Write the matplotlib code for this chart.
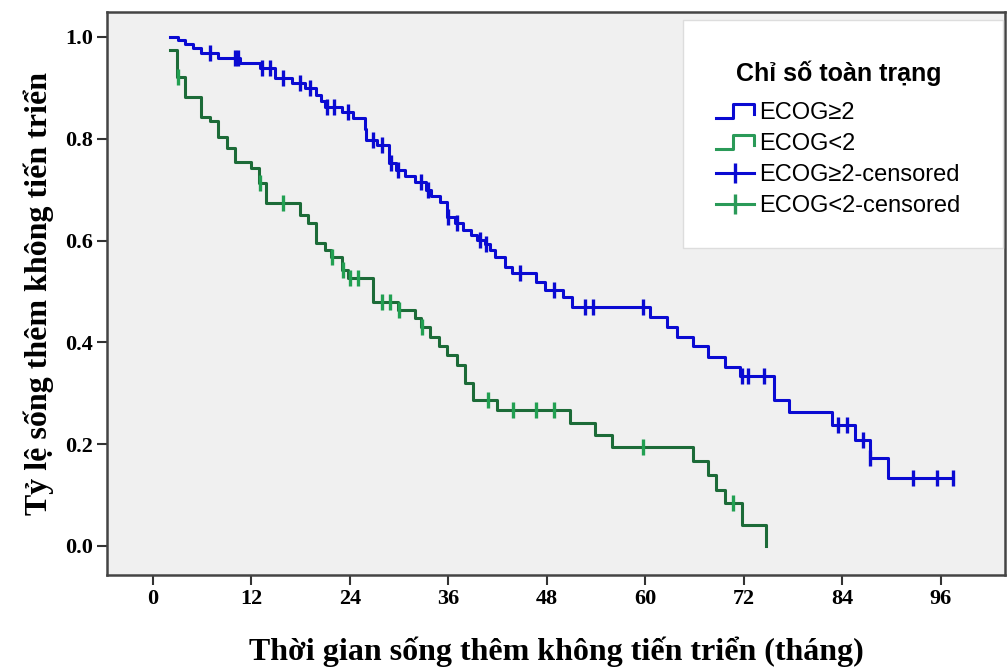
import matplotlib
matplotlib.use("Agg")
import matplotlib.pyplot as plt
import numpy as np
from matplotlib.lines import Line2D
from matplotlib.patches import Rectangle
from matplotlib.legend_handler import HandlerBase

# ECOG>=2 group: event times (months) and survival after each drop
blue_start = (2.07, 1.0)
blue_times = [3.0, 3.9, 4.9, 5.9, 7.9, 10.6, 13.0, 14.9, 16.9, 18.5, 19.9, 20.5, 20.9,
              23.0, 24.4, 25.8, 26.0, 27.3, 28.8, 29.6, 30.7, 31.9, 33.3, 33.9, 35.0,
              35.8, 36.8, 37.8, 38.8, 39.5, 40.4, 41.0, 41.7, 42.9, 43.8, 46.7, 47.7,
              50.0, 51.0, 60.6, 62.6, 63.8, 65.8, 67.6, 69.7, 71.5, 75.6, 77.5, 82.7,
              85.5, 87.3, 89.6]
blue_surv = [0.994, 0.986, 0.978, 0.968, 0.958, 0.948, 0.939, 0.919, 0.909, 0.899, 0.885,
             0.875, 0.863, 0.853, 0.840, 0.820, 0.798, 0.788, 0.752, 0.738, 0.727, 0.715,
             0.700, 0.688, 0.676, 0.647, 0.634, 0.621, 0.611, 0.601, 0.594, 0.581, 0.568,
             0.549, 0.536, 0.519, 0.503, 0.490, 0.470, 0.450, 0.431, 0.411, 0.392, 0.372,
             0.352, 0.333, 0.287, 0.264, 0.238, 0.208, 0.172, 0.133]
blue_censored = [6.9, 10.0, 10.3, 13.3, 14.2, 15.8, 17.9, 19.1, 21.2, 22.1, 23.7, 26.8,
                 27.9, 29.0, 29.9, 32.7, 33.5, 35.9, 37.0, 39.8, 40.6, 44.7, 48.8, 52.6,
                 53.6, 59.7, 71.7, 72.5, 74.5, 83.5, 84.5, 86.5, 87.4, 92.6, 95.5, 97.5]

# ECOG<2 group
green_start = (2.07, 0.974)
green_times = [2.9, 3.9, 5.9, 6.9, 7.95, 9.0, 10.0, 12.0, 12.9, 13.8, 17.9, 18.9, 19.9,
               20.9, 21.7, 23.0, 23.8, 26.8, 29.9, 31.9, 32.7, 33.7, 34.8, 35.8, 37.0,
               38.0, 39.0, 41.9, 50.8, 53.8, 55.9, 65.8, 67.6, 68.6, 69.7, 71.7, 74.7]
green_surv = [0.922, 0.883, 0.843, 0.834, 0.804, 0.781, 0.755, 0.742, 0.713, 0.673, 0.650,
              0.635, 0.595, 0.582, 0.568, 0.542, 0.526, 0.480, 0.464, 0.447, 0.431, 0.411,
              0.392, 0.375, 0.356, 0.320, 0.287, 0.267, 0.241, 0.218, 0.195, 0.166, 0.139,
              0.110, 0.084, 0.041, 0.0]
green_censored = [3.0, 13.0, 15.9, 21.8, 23.1, 24.0, 25.0, 27.9, 28.9, 30.0, 32.8, 40.8,
                  43.9, 46.7, 48.8, 59.7, 70.7]

x_ticks = [0, 12, 24, 36, 48, 60, 72, 84, 96]
y_ticks = [0.0, 0.2, 0.4, 0.6, 0.8, 1.0]
labels = ["ECOG\u22652", "ECOG<2", "ECOG\u22652-censored", "ECOG<2-censored"]

blue = "#0a0ad2"
green_line = "#1c6b38"
green_mark = "#22a052"
green_leg = "#2a9a58"


def curve(start, times, surv, last=None):
    t = [start[0]] + list(times)
    s = [start[1]] + list(surv)
    if last is not None and last > t[-1]:
        t.append(last)
        s.append(s[-1])
    return np.array(t), np.array(s)


def level_at(t_arr, s_arr, times):
    idx = np.searchsorted(t_arr, times, side="right") - 1
    return s_arr[idx]


class StepHandler(HandlerBase):
    def create_artists(self, legend, orig_handle, xdescent, ydescent,
                       width, height, fontsize, trans):
        xs = np.array([0, 0.45, 0.45, 1.0, 1.0]) * width - xdescent
        ys = np.array([0.1, 0.1, 0.95, 0.95, 0.35]) * height - ydescent
        ln = Line2D(xs, ys, color=orig_handle.get_color(), lw=2.2)
        ln.set_transform(trans)
        return [ln]


fig = plt.figure(figsize=(10.08, 6.72), dpi=100)
ax = fig.add_axes([107 / 1008, 1 - 575 / 672, 898 / 1008, 563 / 672])
ax.set_facecolor("#f0f0f0")

bt, bs = curve(blue_start, blue_times, blue_surv, last=max(blue_censored))
gt, gs = curve(green_start, green_times, green_surv)

ax.step(bt, bs, where="post", color=blue, lw=2.2)
ax.step(gt, gs, where="post", color=green_line, lw=2.2)
ax.plot(blue_censored, level_at(bt, bs, blue_censored), ls="none", marker="|",
        ms=11, mew=2.4, color=blue)
ax.plot(green_censored, level_at(gt, gs, green_censored), ls="none", marker="|",
        ms=11, mew=2.4, color=green_mark)

ax.set_xlim(-5.6, 103.8)
ax.set_ylim(-0.057, 1.049)
ax.set_xticks(x_ticks)
ax.set_yticks(y_ticks)
ax.set_yticklabels([f"{v:.1f}" for v in y_ticks])

serif = ["Liberation Serif", "DejaVu Serif"]
for lab in ax.get_xticklabels() + ax.get_yticklabels():
    lab.set_family(serif)
    lab.set_fontweight("bold")
    lab.set_fontsize(16)
ax.tick_params(direction="out", length=7, width=1.5, color="#333333", pad=3)
for sp in ax.spines.values():
    sp.set_color("#444444")
    sp.set_linewidth(1.8)

ax.set_xlabel("Thời gian sống thêm không tiến triển (tháng)", family=serif,
              fontweight="bold", fontsize=23, labelpad=20)
ax.set_ylabel("Tỷ lệ sống thêm không tiến triển", family=serif,
              fontweight="bold", fontsize=23, labelpad=8)

# legend panel
ax.add_patch(Rectangle((0.641, 0.581), 0.357, 0.405, transform=ax.transAxes,
                       facecolor="white", edgecolor="#dddddd", lw=1, zorder=3))
handles = [Line2D([], [], color=blue),
           Line2D([], [], color=green_leg),
           Line2D([], [], color=blue, marker="|", ms=14, mew=2.4, lw=2.2),
           Line2D([], [], color=green_leg, marker="|", ms=14, mew=2.4, lw=2.2)]
sans = ["Liberation Sans", "DejaVu Sans"]
leg = ax.legend(handles, labels, loc="upper left", bbox_to_anchor=(0.655, 0.952),
                frameon=False, numpoints=1, handlelength=1.6, handletextpad=0.2,
                labelspacing=0.38, prop={"family": sans, "size": 17},
                title="Chỉ số toàn trạng",
                title_fontproperties={"family": sans, "size": 18, "weight": "bold"},
                handler_map={handles[0]: StepHandler(), handles[1]: StepHandler()})
leg._legend_box.sep = 12
leg.set_zorder(4)

fig.savefig("out.png", dpi=100, facecolor="white")
